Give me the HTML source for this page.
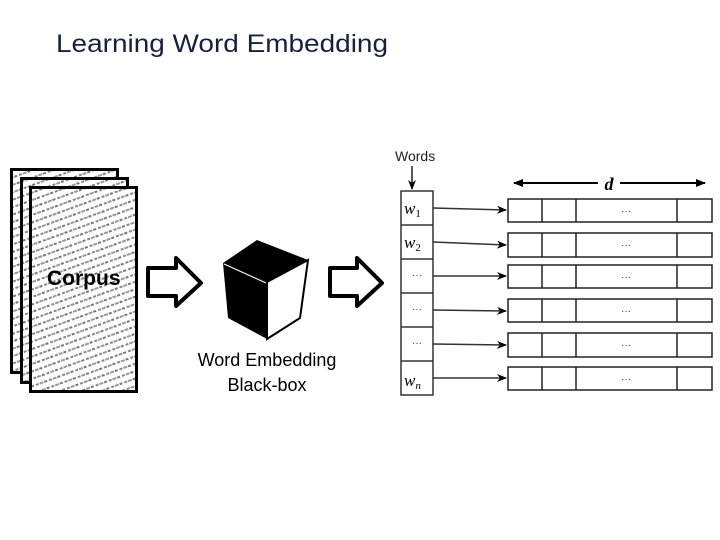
<!DOCTYPE html>
<html><head><meta charset="utf-8"><style>
html,body{margin:0;padding:0;background:#fff;}
svg{display:block;}
</style></head><body>
<svg width="720" height="540" viewBox="0 0 720 540" xmlns="http://www.w3.org/2000/svg" font-family="Liberation Sans, sans-serif">
<defs>
<pattern id="txt" width="14" height="7" patternUnits="userSpaceOnUse" patternTransform="rotate(-20)">
<rect width="14" height="7" fill="#fff"/>
<rect x="0" y="2" width="3" height="2" fill="#888"/>
<rect x="4" y="2" width="4" height="2" fill="#999"/>
<rect x="9" y="2" width="3" height="2" fill="#777"/>
</pattern>
<marker id="ah" markerWidth="10" markerHeight="8" refX="9" refY="4" orient="auto" markerUnits="userSpaceOnUse">
<path d="M0,0 L10,4 L0,8 L3,4 Z" fill="#000"/>
</marker>
<marker id="ah2" markerWidth="10" markerHeight="8" refX="9" refY="4" orient="auto-start-reverse" markerUnits="userSpaceOnUse">
<path d="M0,0 L10,4 L0,8 Z" fill="#000"/>
</marker>
</defs>
<text x="56" y="52" font-size="25" fill="#16213f" textLength="332" lengthAdjust="spacingAndGlyphs">Learning Word Embedding</text>

<!-- corpus pages -->
<rect x="11.5" y="169.5" width="106" height="203" fill="url(#txt)" stroke="#000" stroke-width="3"/>
<rect x="21.5" y="178.5" width="106" height="204" fill="url(#txt)" stroke="#000" stroke-width="3"/>
<rect x="30.5" y="187.5" width="106" height="204" fill="url(#txt)" stroke="#000" stroke-width="3"/>
<text x="47" y="285" font-size="21" font-weight="bold" fill="#000">Corpus</text>

<!-- hollow arrows -->
<g fill="#fff" stroke="#000" stroke-width="4" stroke-linejoin="round">
<path d="M148,268 L176,268 L176,258 L201,283 L176,306 L176,296 L148,296 Z"/>
<path d="M330,268 L357,268 L357,258 L382,283 L357,306 L357,296 L330,296 Z"/>
</g>

<!-- cube -->
<path d="M223,263 L257,240 L308,260 L267,282 Z" fill="#000"/>
<path d="M223,263 L267,282 L267,339 L228,318 Z" fill="#000"/>
<path d="M267,282 L308,260 L300,318 L267,339 Z" fill="#fff" stroke="#000" stroke-width="2"/>
<line x1="224" y1="264" x2="266" y2="283" stroke="#fff" stroke-width="1"/>
<text x="267" y="366" font-size="18" text-anchor="middle" fill="#000">Word Embedding</text>
<text x="267" y="391" font-size="18" text-anchor="middle" fill="#000">Black-box</text>

<!-- words column -->
<text x="395" y="161" font-size="14" fill="#222">Words</text>
<line x1="412" y1="166" x2="412" y2="189" stroke="#222" stroke-width="1.5" marker-end="url(#ah)"/>
<g stroke="#333" stroke-width="1.5" fill="#fff">
<rect x="401" y="191" width="32" height="204"/>
<line x1="401" y1="225" x2="433" y2="225"/>
<line x1="401" y1="259" x2="433" y2="259"/>
<line x1="401" y1="293" x2="433" y2="293"/>
<line x1="401" y1="327" x2="433" y2="327"/>
<line x1="401" y1="361" x2="433" y2="361"/>
</g>
<g font-family="Liberation Serif, serif" font-style="italic" font-size="17" fill="#000">
<text x="404" y="214">w<tspan font-size="11" font-style="normal" dy="3">1</tspan></text>
<text x="404" y="248">w<tspan font-size="11" font-style="normal" dy="3">2</tspan></text>
<text x="404" y="386">w<tspan font-size="11" dy="3">n</tspan></text>
</g>
<g font-size="10" fill="#333" text-anchor="middle">
<text x="417" y="278">···</text>
<text x="417" y="312">···</text>
<text x="417" y="346">···</text>
</g>

<!-- d arrow -->
<line x1="514" y1="183" x2="705" y2="183" stroke="#000" stroke-width="2" marker-start="url(#ah2)" marker-end="url(#ah2)"/>
<rect x="598" y="172" width="22" height="20" fill="#fff"/>
<text x="609" y="190" font-family="Liberation Serif, serif" font-style="italic" font-weight="bold" font-size="18" text-anchor="middle">d</text>

<!-- rows -->
<g stroke="#333" stroke-width="1.5" fill="none">
<line x1="433" y1="208" x2="506" y2="210" marker-end="url(#ah)"/>
<line x1="433" y1="242" x2="506" y2="245" marker-end="url(#ah)"/>
<line x1="433" y1="276" x2="506" y2="276" marker-end="url(#ah)"/>
<line x1="433" y1="310" x2="506" y2="311" marker-end="url(#ah)"/>
<line x1="433" y1="344" x2="506" y2="345" marker-end="url(#ah)"/>
<line x1="433" y1="378" x2="506" y2="378" marker-end="url(#ah)"/>
</g>
<g stroke="#222" stroke-width="1.5" fill="#fff">
<rect x="508" y="199" width="204" height="23"/>
<rect x="508" y="233" width="204" height="24"/>
<rect x="508" y="265" width="204" height="23"/>
<rect x="508" y="299" width="204" height="23"/>
<rect x="508" y="333" width="204" height="24"/>
<rect x="508" y="367" width="204" height="23"/>
</g>
<g stroke="#222" stroke-width="1.5">
<path d="M542,199V222M576,199V222M677,199V222 M542,233V257M576,233V257M677,233V257 M542,265V288M576,265V288M677,265V288 M542,299V322M576,299V322M677,299V322 M542,333V357M576,333V357M677,333V357 M542,367V390M576,367V390M677,367V390"/>
</g>
<g font-size="10" fill="#333" text-anchor="middle">
<text x="626" y="214">···</text>
<text x="626" y="248">···</text>
<text x="626" y="280">···</text>
<text x="626" y="314">···</text>
<text x="626" y="348">···</text>
<text x="626" y="382">···</text>
</g>
</svg>
</body></html>
